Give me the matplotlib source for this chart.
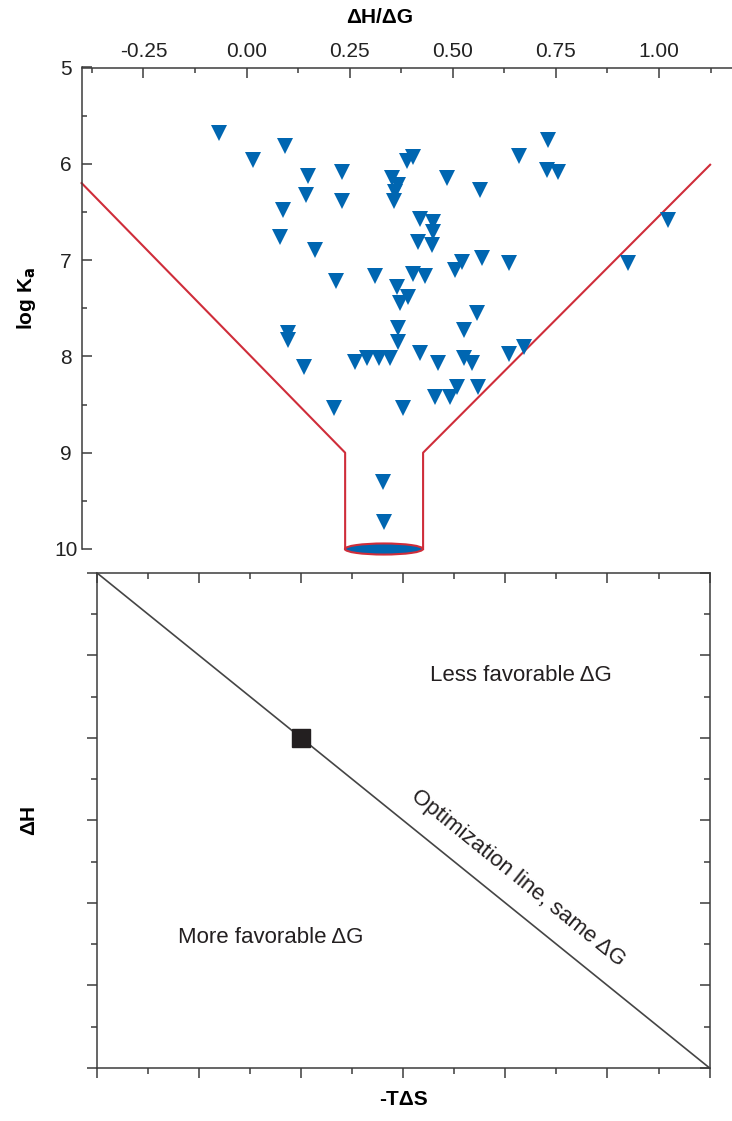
import math
import matplotlib
matplotlib.use('Agg')
import matplotlib.pyplot as plt
from matplotlib.patches import Ellipse
from matplotlib.ticker import MultipleLocator, FixedLocator, FormatStrFormatter

plt.rcParams['font.family'] = ['Liberation Sans', 'DejaVu Sans']
plt.rcParams['axes.unicode_minus'] = False

# ---- data: top panel (thermodynamic funnel) ----
dh_dg = [-0.068, 0.092, 0.015, 0.150, 0.231, 0.143, 0.231, 0.088, 0.081, 0.166,
         0.217, 0.312, 0.732, 0.661, 0.404, 0.389, 0.728, 0.754, 0.352, 0.368,
         0.360, 0.358, 0.485, 0.566, 1.023, 0.421, 0.453, 0.453, 0.416, 0.449,
         0.926, 0.570, 0.522, 0.505, 0.636, 0.404, 0.433, 0.364, 0.392, 0.372,
         0.558, 0.526, 0.366, 0.366, 0.100, 0.100, 0.139, 0.263, 0.291, 0.320,
         0.348, 0.421, 0.465, 0.527, 0.546, 0.636, 0.673, 0.510, 0.493, 0.457,
         0.560, 0.213, 0.380, 0.330, 0.333]
log_ka = [5.68, 5.81, 5.96, 6.13, 6.08, 6.32, 6.39, 6.48, 6.76, 6.90,
          7.22, 7.17, 5.75, 5.92, 5.93, 5.97, 6.06, 6.08, 6.15, 6.22,
          6.29, 6.39, 6.15, 6.27, 6.58, 6.57, 6.60, 6.71, 6.81, 6.84,
          7.03, 6.98, 7.02, 7.10, 7.03, 7.14, 7.17, 7.28, 7.38, 7.45,
          7.55, 7.73, 7.71, 7.85, 7.76, 7.83, 8.11, 8.06, 8.02, 8.02,
          8.02, 7.96, 8.07, 8.02, 8.07, 7.97, 7.90, 8.32, 8.42, 8.42,
          8.32, 8.54, 8.54, 9.30, 9.72]

funnel_left_x = [-0.40, 0.239, 0.239]
funnel_left_y = [6.20, 9.0, 10.0]
funnel_right_x = [0.428, 0.428, 1.124]
funnel_right_y = [10.0, 9.0, 6.01]
ellipse_x, ellipse_y = 0.333, 10.0

top_x_ticks = [-0.25, 0.00, 0.25, 0.50, 0.75, 1.00]
top_y_ticks = [5, 6, 7, 8, 9, 10]

# ---- data: bottom panel (optimization diagram) ----
opt_line_x = [0, 6]
opt_line_y = [6, 0]
square_x = [2]
square_y = [4]

BLUE = '#0066b1'
RED = '#cf2d3a'
AX = '#3c3c3c'

W, H = 732, 1121
fig = plt.figure(figsize=(W / 100, H / 100), dpi=100)

# ================= top panel =================
ax1 = fig.add_axes([82 / W, 1 - 549 / H, (W - 82) / W, 481.5 / H])
ax1.set_xlim(-0.399, 1.177)
ax1.set_ylim(10, 5)
for s in ['bottom', 'right']:
    ax1.spines[s].set_visible(False)
for s in ['top', 'left']:
    ax1.spines[s].set_color(AX)
    ax1.spines[s].set_linewidth(1.1)

ax1.xaxis.tick_top()
ax1.xaxis.set_major_locator(FixedLocator(top_x_ticks))
ax1.xaxis.set_minor_locator(MultipleLocator(0.125))
ax1.xaxis.set_major_formatter(FormatStrFormatter('%.2f'))
ax1.yaxis.set_major_locator(FixedLocator(top_y_ticks))
ax1.yaxis.set_minor_locator(MultipleLocator(0.5))
ax1.tick_params(axis='both', which='both', direction='in', color=AX, width=1.1,
                labelsize=15, labelcolor='#222222')
ax1.tick_params(axis='both', which='major', length=7)
ax1.tick_params(axis='both', which='minor', length=3.5)
ax1.tick_params(axis='x', which='both', pad=4.5)
ax1.tick_params(axis='y', which='both', pad=11.5)
for lab in ax1.get_yticklabels():
    lab.set_ha('center')

ax1.plot(funnel_left_x, funnel_left_y, color=RED, lw=1.5, clip_on=False, zorder=2)
ax1.plot(funnel_right_x, funnel_right_y, color=RED, lw=1.5, clip_on=False, zorder=2)
ax1.add_patch(Ellipse((ellipse_x, ellipse_y), width=0.189, height=0.115,
                      facecolor=BLUE, edgecolor=RED, lw=1.5, clip_on=False, zorder=3))
ax1.plot(dh_dg, log_ka, linestyle='none', marker='v', markersize=12,
         color=BLUE, markeredgewidth=0, zorder=4, clip_on=False)

ax1.xaxis.set_label_position('top')
ax1.set_xlabel('ΔH/ΔG', fontsize=15, fontweight='bold')
ax1.xaxis.set_label_coords((380 - 82) / 650, (549 - 23) / 481.5)
ax1.set_ylabel('log K$_\\mathbf{a}$', fontsize=15, fontweight='bold')
ax1.yaxis.set_label_coords((38 - 82) / 650, 0.52)

# ================= bottom panel =================
ax2 = fig.add_axes([96.7 / W, 1 - 1068 / H, 612.9 / W, 495.3 / H])
ax2.set_xlim(0, 6)
ax2.set_ylim(0, 6)
for s in ax2.spines.values():
    s.set_color(AX)
    s.set_linewidth(1.1)
ax2.xaxis.set_major_locator(MultipleLocator(1))
ax2.xaxis.set_minor_locator(MultipleLocator(0.5))
ax2.yaxis.set_major_locator(MultipleLocator(1))
ax2.yaxis.set_minor_locator(MultipleLocator(0.5))
ax2.tick_params(axis='both', which='both', direction='out', color=AX, width=1.1,
                labelbottom=False, labelleft=False)
ax2.tick_params(axis='both', which='major', length=7)
ax2.tick_params(axis='both', which='minor', length=4)
ax2.tick_params(axis='x', which='both', top=True)
ax2.tick_params(axis='y', which='both', right=True)
# top/right ticks point inward
for t in ax2.xaxis.get_major_ticks() + ax2.xaxis.get_minor_ticks():
    t.tick2line.set_marker(3)  # TICKDOWN: inward at top
for t in ax2.yaxis.get_major_ticks() + ax2.yaxis.get_minor_ticks():
    t.tick2line.set_marker(0)  # TICKLEFT: inward at right

ax2.plot(opt_line_x, opt_line_y, color='#454545', lw=1.2, zorder=2)
ax2.plot(square_x, square_y, linestyle='none', marker='s', markersize=13.5,
         color='#231f20', zorder=3)

ax2.text(4.15, 4.76, 'Less favorable ΔG', fontsize=16, ha='center', va='center',
         color='#231f20')
ax2.text(1.70, 1.575, 'More favorable ΔG', fontsize=16, ha='center', va='center',
         color='#231f20')
p1 = ax2.transData.transform((opt_line_x[0], opt_line_y[0]))
p2 = ax2.transData.transform((opt_line_x[1], opt_line_y[1]))
ang = math.degrees(math.atan2(p2[1] - p1[1], p2[0] - p1[0]))
ax2.text(4.12, 2.30, 'Optimization line, same ΔG', fontsize=16, ha='center',
         va='center', rotation=ang, rotation_mode='anchor', color='#231f20')

ax2.set_xlabel('-TΔS', fontsize=15, fontweight='bold')
ax2.xaxis.set_label_coords(0.5, -0.045)
ax2.set_ylabel('ΔH', fontsize=15, fontweight='bold')
ax2.yaxis.set_label_coords((38 - 96.7) / 612.9, 0.5)

fig.savefig('out.png', dpi=100)
